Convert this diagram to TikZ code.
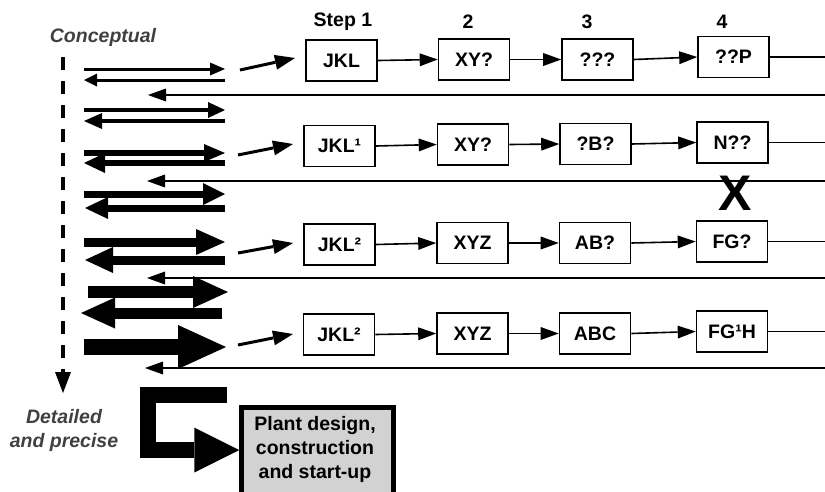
\documentclass[tikz,border=0pt]{standalone}
\usepackage{fontspec}
\setmainfont{Liberation Sans}
\usetikzlibrary{arrows.meta}
\newcommand{\bfs}{\bfseries\fontsize{19.5}{24}\selectfont}
\definecolor{lblgray}{HTML}{404040}
\definecolor{boxgray}{HTML}{D2D2D2}
\tikzset{
  bx/.style={draw, line width=1.6pt, minimum width=71pt, minimum height=41pt, inner sep=0pt, font=\bfs},
  flow/.style={line width=1.6pt, -{Triangle[length=18pt,width=13pt,line width=0pt]}},
  plain/.style={line width=1.6pt},
  diag/.style={line width=3pt, -{Triangle[length=20pt,width=15pt,line width=0pt]}},
  lbl/.style={font=\bfs, inner sep=0pt},
  fat/.style n args={3}{line width=#1, -{Triangle[length=#2,width=#3,line width=0pt]}},
}
\begin{document}
\begin{tikzpicture}[x=1pt,y=-1pt]
\useasboundingbox (0,0) rectangle (825,491);
\clip (0,0) rectangle (825,491);

% side labels
\node[lbl, text=lblgray, font=\bfs\itshape] (concept) at (103,37) {Conceptual};
\node[lbl, text=lblgray, font=\bfs\itshape, align=center] (detail) at (64,430) {Detailed\\and precise};
\coordinate (dtop) at (63,57);
\coordinate (dbot) at (63,393);
\draw[line width=3.5pt, dash pattern=on 13pt off 11pt, -{Triangle[length=21pt,width=16pt,line width=0pt]}] (dtop) -- (dbot);

% step labels
\node[lbl] (s1) at (343,22) {Step 1};
\node[lbl] (s2) at (468,22) {2};
\node[lbl] (s3) at (587,22) {3};
\node[lbl] (s4) at (722,22) {4};

% double arrows
\coordinate (p1r0) at (84,69);  \coordinate (p1r1) at (225,69);
\coordinate (p1l0) at (225,80); \coordinate (p1l1) at (84,80);
\draw[fat={3pt}{15pt}{13pt}] (p1r0) -- (p1r1);
\draw[fat={3pt}{13pt}{13pt}] (p1l0) -- (p1l1);

\coordinate (p2r0) at (84,110);  \coordinate (p2r1) at (225,110);
\coordinate (p2l0) at (225,121); \coordinate (p2l1) at (84,121);
\draw[fat={4pt}{17pt}{16pt}] (p2r0) -- (p2r1);
\draw[fat={4pt}{18pt}{16pt}] (p2l0) -- (p2l1);

\coordinate (p3r0) at (84,153);  \coordinate (p3r1) at (225,153);
\coordinate (p3l0) at (225,163); \coordinate (p3l1) at (84,163);
\draw[fat={5.5pt}{21pt}{18pt}] (p3r0) -- (p3r1);
\draw[fat={5.5pt}{21pt}{20pt}] (p3l0) -- (p3l1);

\coordinate (p4r0) at (84,194);  \coordinate (p4r1) at (225,194);
\coordinate (p4l0) at (225,208); \coordinate (p4l1) at (85,208);
\draw[fat={7pt}{22pt}{22pt}] (p4r0) -- (p4r1);
\draw[fat={7pt}{23pt}{22pt}] (p4l0) -- (p4l1);

\coordinate (p5r0) at (84,242);  \coordinate (p5r1) at (225,242);
\coordinate (p5l0) at (225,260); \coordinate (p5l1) at (85,260);
\draw[fat={9pt}{29pt}{26pt}] (p5r0) -- (p5r1);
\draw[fat={9pt}{28pt}{26pt}] (p5l0) -- (p5l1);

\coordinate (p6r0) at (88,292);  \coordinate (p6r1) at (228,292);
\coordinate (p6l0) at (222,313); \coordinate (p6l1) at (81,313);
\draw[fat={12pt}{35pt}{32pt}] (p6r0) -- (p6r1);
\draw[fat={11pt}{34pt}{31pt}] (p6l0) -- (p6l1);

\coordinate (big0) at (84,347); \coordinate (big1) at (226,347);
\draw[fat={16pt}{48pt}{44pt}] (big0) -- (big1);

% rows of boxes
\node[bx] (a1) at (341.5,60.5) {JKL};
\node[bx] (b1) at (474,59.5) {XY?};
\node[bx] (c1) at (597.5,59.5) {???};
\node[bx] (d1) at (733.5,57) {??P};

\node[bx] (a2) at (339.5,146) {JKL¹};
\node[bx] (b2) at (473,144.5) {XY?};
\node[bx] (c2) at (595.5,144) {?B?};
\node[bx] (d2) at (732.5,142.5) {N??};

\node[bx] (a3) at (339.5,244.5) {JKL²};
\node[bx] (b3) at (472.5,243) {XYZ};
\node[bx] (c3) at (595,243) {AB?};
\node[bx] (d3) at (732,241.5) {FG?};

\node[bx] (a4) at (339,334.5) {JKL²};
\node[bx] (b4) at (472.5,333.5) {XYZ};
\node[bx] (c4) at (595,333.5) {ABC};
\node[bx] (d4) at (732,331.5) {FG¹H};

\foreach \r in {1,2,3,4}{
  \draw[flow] (a\r.east) -- (b\r.west);
  \draw[flow] (b\r.east) -- (c\r.west);
  \draw[flow] (c\r.east) -- (d\r.west);
}

% exits to the right edge
\coordinate (e1) at (825,57);
\coordinate (e2) at (825,142.5);
\coordinate (e3) at (825,241.5);
\coordinate (e4) at (825,331.5);
\draw[plain] (d1.east) -- (e1);
\draw[plain] (d2.east) -- (e2);
\draw[plain] (d3.east) -- (e3);
\draw[plain] (d4.east) -- (e4);

% feedback lines
\coordinate (f1a) at (825,95);  \coordinate (f1b) at (148,95);
\coordinate (f2a) at (825,181); \coordinate (f2b) at (147,181);
\coordinate (f3a) at (825,278); \coordinate (f3b) at (147,278);
\coordinate (f4a) at (825,368); \coordinate (f4b) at (145,368);
\draw[flow] (f1a) -- (f1b);
\draw[flow] (f2a) -- (f2b);
\draw[flow] (f3a) -- (f3b);
\draw[flow] (f4a) -- (f4b);

% diagonal arrows into the first boxes
\coordinate (g1a) at (240,70);  \coordinate (g1b) at (295,58);
\coordinate (g2a) at (238,155); \coordinate (g2b) at (293,144);
\coordinate (g3a) at (238,253); \coordinate (g3b) at (293,243);
\coordinate (g4a) at (238,345); \coordinate (g4b) at (293,334);
\draw[diag] (g1a) -- (g1b);
\draw[diag] (g2a) -- (g2b);
\draw[diag] (g3a) -- (g3b);
\draw[diag] (g4a) -- (g4b);

% big X
\node[inner sep=0pt, font=\bfseries\fontsize{50}{50}\selectfont] (xmark) at (735,193) {X};

% plant box
\node[draw, line width=4.5pt, fill=boxgray, minimum width=152pt, minimum height=100pt, inner sep=0pt, anchor=north west] (plant) at (239.25,405.25) {};
\node[lbl, align=center] (planttxt) at (315,449) {Plant design,\\construction\\and start-up};

% C shaped arrow
\coordinate (c0) at (227,395);
\coordinate (c1) at (147.5,395);
\coordinate (c2) at (147.5,450);
\draw[line width=16pt, line join=miter, -{Triangle[length=45pt,width=45pt,line width=0pt]}] (c0) -- (c1) -- (c2) -- (plant.west |- c2);
\end{tikzpicture}
\end{document}
